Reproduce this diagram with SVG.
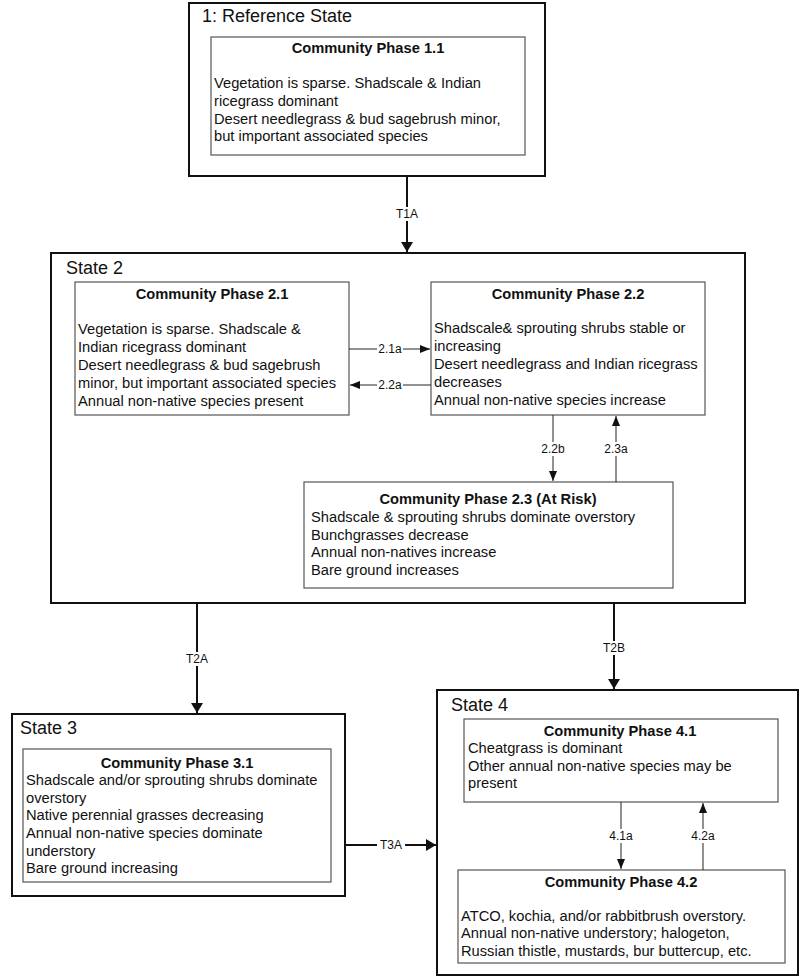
<svg xmlns="http://www.w3.org/2000/svg" width="800" height="978" viewBox="0 0 800 978">
<style>
.state{fill:#fff;stroke:#111;stroke-width:2}
.phase{fill:#fff;stroke:#555;stroke-width:1.2}
.st{font-family:"Liberation Sans",Arial,sans-serif;font-size:18px;fill:#111}
.ph{font-family:"Liberation Sans",Arial,sans-serif;font-size:14.7px;font-weight:bold;fill:#111;text-anchor:middle}
.tx{font-family:"Liberation Sans",Arial,sans-serif;font-size:14.7px;fill:#111}
.lb{font-family:"Liberation Sans",Arial,sans-serif;font-size:12px;fill:#111;text-anchor:middle}
.thick{stroke:#111;stroke-width:2;fill:none}
.thin{stroke:#222;stroke-width:1;fill:none}
.bg{fill:#fff}
</style>
<defs>
<marker id="big" viewBox="0 0 10 12" refX="10" refY="6" markerWidth="10" markerHeight="12" markerUnits="userSpaceOnUse" orient="auto"><path d="M0,0 L10,6 L0,12 Z" fill="#111"/></marker>
<marker id="sm" viewBox="0 0 10 8" refX="10" refY="4" markerWidth="10" markerHeight="8" markerUnits="userSpaceOnUse" orient="auto"><path d="M0,0 L10,4 L0,8 Z" fill="#111"/></marker>
</defs>

<g id="state1">
<rect class="state" x="189" y="3" width="356" height="173"/>
<text class="st" x="202" y="22">1: Reference State</text>
</g>
<g id="phase11">
<rect class="phase" x="211" y="37" width="314" height="118"/>
<text class="ph" x="368" y="53">Community Phase 1.1</text>
<text class="tx" x="214" y="88">Vegetation is sparse. Shadscale &amp; Indian</text>
<text class="tx" x="214" y="106">ricegrass dominant</text>
<text class="tx" x="214" y="124">Desert needlegrass &amp; bud sagebrush minor,</text>
<text class="tx" x="214" y="141">but important associated species</text>
</g>

<g id="state2">
<rect class="state" x="51" y="253" width="694" height="350"/>
<text class="st" x="66" y="274">State 2</text>
</g>
<g id="phase21">
<rect class="phase" x="75" y="282" width="274" height="133"/>
<text class="ph" x="212" y="299">Community Phase 2.1</text>
<text class="tx" x="78" y="334">Vegetation is sparse. Shadscale &amp;</text>
<text class="tx" x="78" y="352">Indian ricegrass dominant</text>
<text class="tx" x="78" y="370">Desert needlegrass &amp; bud sagebrush</text>
<text class="tx" x="78" y="388">minor, but important associated species</text>
<text class="tx" x="78" y="406">Annual non-native species present</text>
</g>
<g id="phase22">
<rect class="phase" x="431" y="282" width="274" height="133"/>
<text class="ph" x="568" y="299">Community Phase 2.2</text>
<text class="tx" x="434" y="333">Shadscale&amp; sprouting shrubs stable or</text>
<text class="tx" x="434" y="351">increasing</text>
<text class="tx" x="434" y="369">Desert needlegrass and Indian ricegrass</text>
<text class="tx" x="434" y="387">decreases</text>
<text class="tx" x="434" y="405">Annual non-native species increase</text>
</g>
<g id="phase23">
<rect class="phase" x="304" y="482" width="369" height="106"/>
<text class="ph" x="488" y="504">Community Phase 2.3 (At Risk)</text>
<text class="tx" x="311" y="522">Shadscale &amp; sprouting shrubs dominate overstory</text>
<text class="tx" x="311" y="540">Bunchgrasses decrease</text>
<text class="tx" x="311" y="557">Annual non-natives increase</text>
<text class="tx" x="311" y="575">Bare ground increases</text>
</g>

<g id="state3">
<rect class="state" x="12" y="714" width="333" height="182"/>
<text class="st" x="20" y="734">State 3</text>
</g>
<g id="phase31">
<rect class="phase" x="23" y="749" width="308" height="133"/>
<text class="ph" x="177" y="768">Community Phase 3.1</text>
<text class="tx" x="26" y="785">Shadscale and/or sprouting shrubs dominate</text>
<text class="tx" x="26" y="803">overstory</text>
<text class="tx" x="26" y="820">Native perennial grasses decreasing</text>
<text class="tx" x="26" y="838">Annual non-native species dominate</text>
<text class="tx" x="26" y="856">understory</text>
<text class="tx" x="26" y="873">Bare ground increasing</text>
</g>

<g id="state4">
<rect class="state" x="437" y="690" width="361" height="285"/>
<text class="st" x="451" y="711">State 4</text>
</g>
<g id="phase41">
<rect class="phase" x="464" y="719" width="314" height="83"/>
<text class="ph" x="620" y="736">Community Phase 4.1</text>
<text class="tx" x="468" y="753">Cheatgrass is dominant</text>
<text class="tx" x="468" y="771">Other annual non-native species may be</text>
<text class="tx" x="468" y="788">present</text>
</g>
<g id="phase42">
<rect class="phase" x="458" y="870" width="327" height="93"/>
<text class="ph" x="621" y="887">Community Phase 4.2</text>
<text class="tx" x="461" y="921">ATCO, kochia, and/or rabbitbrush overstory.</text>
<text class="tx" x="461" y="938">Annual non-native understory; halogeton,</text>
<text class="tx" x="461" y="956">Russian thistle, mustards, bur buttercup, etc.</text>
</g>

<g id="connectors">
<line class="thick" x1="407" y1="176" x2="407" y2="252" marker-end="url(#big)"/>
<rect class="bg" x="393" y="207" width="28" height="14"/>
<text class="lb" x="407" y="218">T1A</text>

<line class="thin" x1="349" y1="349" x2="430" y2="349" marker-end="url(#sm)"/>
<rect class="bg" x="377" y="342" width="26" height="14"/>
<text class="lb" x="390" y="353">2.1a</text>
<line class="thin" x1="431" y1="385" x2="350" y2="385" marker-end="url(#sm)"/>
<rect class="bg" x="377" y="378" width="26" height="14"/>
<text class="lb" x="390" y="389">2.2a</text>

<line class="thin" x1="553" y1="415" x2="553" y2="481" marker-end="url(#sm)"/>
<rect class="bg" x="539" y="442" width="28" height="14"/>
<text class="lb" x="553" y="453">2.2b</text>
<line class="thin" x1="616" y1="482" x2="616" y2="416" marker-end="url(#sm)"/>
<rect class="bg" x="602" y="442" width="28" height="14"/>
<text class="lb" x="616" y="453">2.3a</text>

<line class="thick" x1="197" y1="603" x2="197" y2="713" marker-end="url(#big)"/>
<rect class="bg" x="183" y="652" width="28" height="14"/>
<text class="lb" x="197" y="663">T2A</text>
<line class="thick" x1="614" y1="603" x2="614" y2="689" marker-end="url(#big)"/>
<rect class="bg" x="600" y="641" width="28" height="14"/>
<text class="lb" x="614" y="652">T2B</text>

<line class="thick" x1="345" y1="845" x2="436" y2="845" marker-end="url(#big)"/>
<rect class="bg" x="377" y="838" width="28" height="14"/>
<text class="lb" x="391" y="849">T3A</text>

<line class="thin" x1="621" y1="802" x2="621" y2="869" marker-end="url(#sm)"/>
<rect class="bg" x="607" y="829" width="28" height="14"/>
<text class="lb" x="621" y="840">4.1a</text>
<line class="thin" x1="703" y1="870" x2="703" y2="803" marker-end="url(#sm)"/>
<rect class="bg" x="689" y="829" width="28" height="14"/>
<text class="lb" x="703" y="840">4.2a</text>
</g>
</svg>
